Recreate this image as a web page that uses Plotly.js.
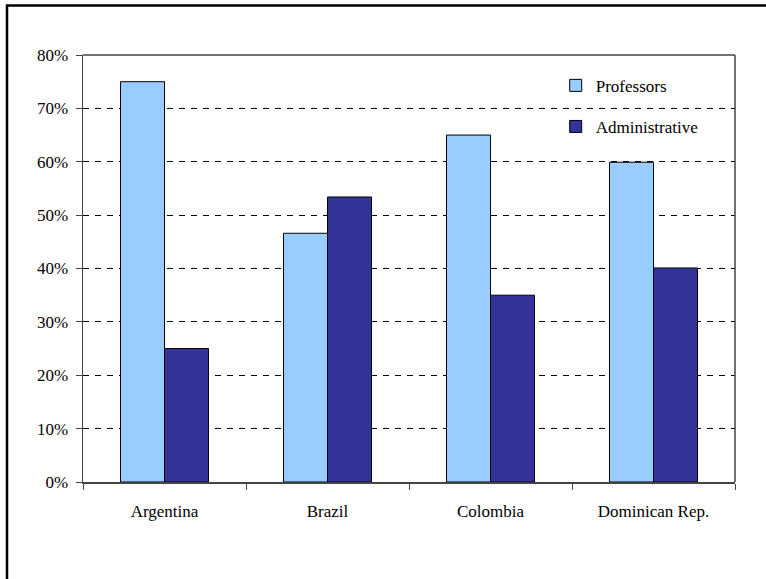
<!DOCTYPE html>
<html>
<head>
<meta charset="utf-8">
<script src="https://cdn.plot.ly/plotly-3.0.1.min.js"></script>
<style>
  html, body { margin: 0; padding: 0; background: #fff; overflow: hidden; }
  #chart { width: 766px; height: 579px; }
</style>
</head>
<body>
<div id="chart"></div>
<script>
// Share of staff by country (percent)
const countries = ["Argentina", "Brazil", "Colombia", "Dominican Rep."];
const professors = [75, 46.6, 65, 59.9];
const administrative = [25, 53.4, 35, 40.1];
const yTickVals = [0, 10, 20, 30, 40, 50, 60, 70, 80];
const yTickText = ["0%", "10%", "20%", "30%", "40%", "50%", "60%", "70%", "80%"];

const serif = "Liberation Serif, Times New Roman, serif";

const traces = [
  {
    type: "bar", name: "Professors", x: countries, y: professors,
    legendgroup: "p",
    marker: { color: "#99ccff", line: { color: "#000", width: 1 } },
    hoverinfo: "x+y"
  },
  {
    type: "bar", name: "Administrative", x: countries, y: administrative,
    legendgroup: "a",
    marker: { color: "#333399", line: { color: "#000", width: 1 } },
    hoverinfo: "x+y"
  }
];

const layout = {
  width: 766, height: 579,
  margin: { l: 83, r: 31, t: 55, b: 97 },
  paper_bgcolor: "#fff", plot_bgcolor: "#fff",
  font: { family: serif, size: 17, color: "#000" },
  barmode: "group",
  bargap: 0.46, bargroupgap: 0,
  showlegend: true,
  legend: {
    x: 0.725, y: 0.97, xanchor: "left", yanchor: "top",
    bgcolor: "rgba(0,0,0,0)", borderwidth: 0,
    traceorder: "grouped", tracegroupgap: 16,
    font: { family: serif, size: 17, color: "#000" }
  },
  xaxis: {
    type: "category",
    showline: true, linecolor: "#444", linewidth: 1.5, mirror: false,
    ticks: "outside", tickson: "boundaries", ticklen: 6, tickcolor: "#444",
    showgrid: false, zeroline: false,
    tickfont: { family: serif, size: 17, color: "#000" },
    ticklabelstandoff: 13
  },
  yaxis: {
    range: [0, 80], tickvals: yTickVals, ticktext: yTickText,
    showline: true, linecolor: "#444", linewidth: 1.5,
    ticks: "outside", ticklen: 6, tickcolor: "#444",
    showgrid: true, gridcolor: "#000", gridwidth: 1, griddash: "6px,6px",
    zeroline: false,
    tickfont: { family: serif, size: 17, color: "#000" },
    ticklabelstandoff: 4
  },
  shapes: [
    // plot area top and right edges
    { type: "line", xref: "paper", yref: "paper", x0: 0, x1: 1, y0: 1, y1: 1,
      line: { color: "#444", width: 1.5 } },
    { type: "line", xref: "paper", yref: "paper", x0: 1, x1: 1, y0: 0, y1: 1,
      line: { color: "#444", width: 1.5 } },
    // outer chart frame
    { type: "rect", xref: "paper", yref: "paper",
      x0: (7 - 83) / 652, x1: 1.2, y0: -0.4, y1: 1 + (55 - 5.5) / 427,
      line: { color: "#000", width: 2.5 }, fillcolor: "rgba(0,0,0,0)", layer: "above" }
  ]
};

Plotly.newPlot("chart", traces, layout, { displayModeBar: false, staticPlot: true });
</script>
</body>
</html>
